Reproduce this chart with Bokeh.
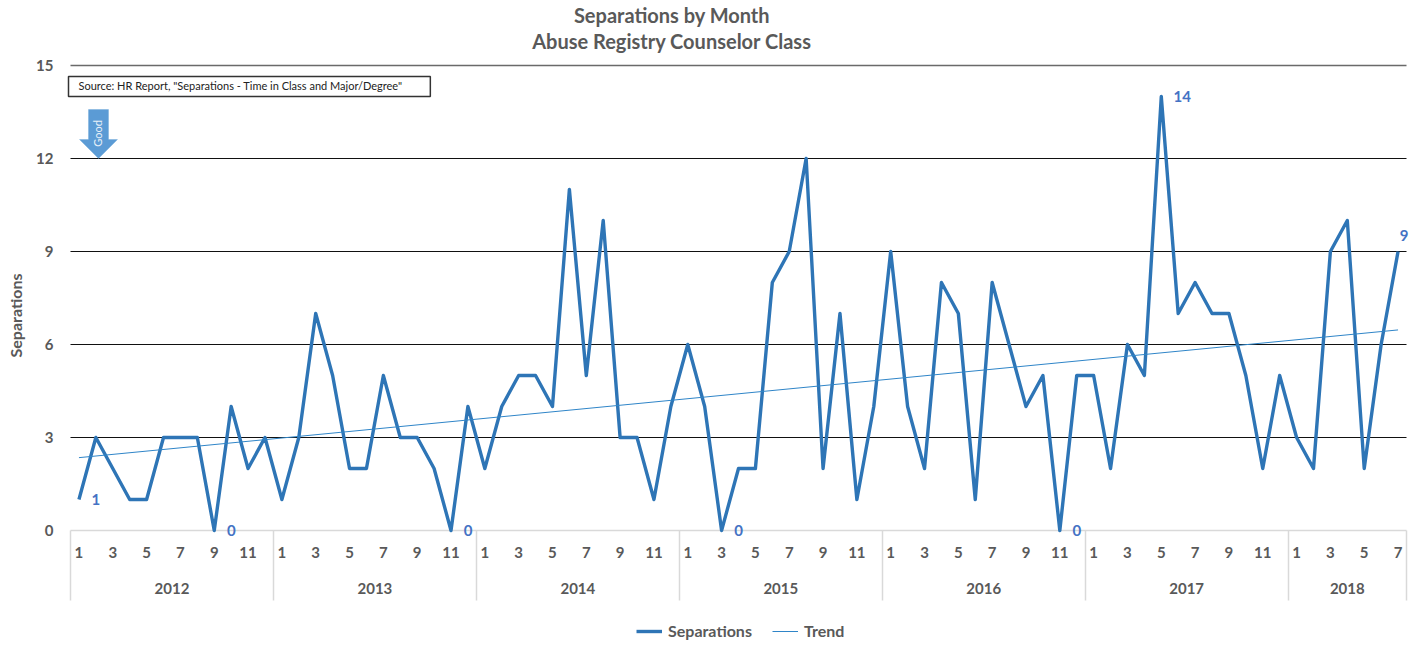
import math
from bokeh.embed import file_html
from bokeh.layouts import column
from bokeh.resources import INLINE
from bokeh.models import (Range1d, LinearAxis, FixedTicker, Label,
                          PolyAnnotation, Legend, LegendItem)
from bokeh.plotting import figure

years = ["2012", "2013", "2014", "2015", "2016", "2017", "2018"]
months_in_year = [12, 12, 12, 12, 12, 12, 7]
separations = [
    1, 3, 2, 1, 1, 3, 3, 3, 0, 4, 2, 3,
    1, 3, 7, 5, 2, 2, 5, 3, 3, 2, 0, 4,
    2, 4, 5, 5, 4, 11, 5, 10, 3, 3, 1, 4,
    6, 4, 0, 2, 2, 8, 9, 12, 2, 7, 1, 4,
    9, 4, 2, 8, 7, 1, 8, 6, 4, 5, 0, 5,
    5, 2, 6, 5, 14, 7, 8, 7, 7, 5, 2, 5,
    3, 2, 9, 10, 2, 6, 9,
]
trend_ends = [2.35, 6.47]
labelled = [0, 8, 22, 38, 58, 64, 78]
label_dx = [17, 17, 17, 17, 17, 21, 6]
label_dy = [0, 0, 0, 0, 0, 0, 16]
y_ticks = [0, 3, 6, 9, 12, 15]

GREY = "#595959"
BLUE = "#2e75b6"
TREND = "#2f85c8"
FONT = "Lato"
W, H, H2 = 1409, 612, 33
# where the plotted area sits in the picture
L, R, T, B = 70, 1406, 65, 530
FB = 537                        # frame bottom: a little below y=0 so that the "0" labels are not clipped

n = len(separations)
idx = list(range(n))
ux = (R - L) / n
uy = (B - T) / 15
sx = lambda px: px
sy = lambda py: FB - py

p = figure(width=W, height=H, output_backend="svg", toolbar_location=None,
           x_range=Range1d(-0.5 - L / ux, n - 0.5 + (W - R) / ux),
           y_range=Range1d(-(FB - B) / uy, 15 + T / uy),
           x_axis_location=None, y_axis_location=None,
           min_border_left=0, min_border_right=0, min_border_top=0, min_border_bottom=H - FB)
p.outline_line_color = None
p.background_fill_color = "white"
p.xgrid.visible = False
p.ygrid.visible = False

# y axis
yax = LinearAxis(ticker=FixedTicker(ticks=y_ticks))
yax.axis_line_color = None
yax.major_tick_line_color = None
yax.minor_tick_line_color = None
yax.major_tick_out = 0
yax.major_tick_in = 0
yax.major_label_text_font = FONT
yax.major_label_text_font_style = "bold"
yax.major_label_text_font_size = "15px"
yax.major_label_text_color = GREY
yax.major_label_standoff = -53
p.add_layout(yax, "left")

# gridlines, from the first month's left edge to the last month's right edge
grid_ticks = y_ticks[1:-1]
p.segment([-0.5] * len(grid_ticks), grid_ticks, [n - 0.5] * len(grid_ticks), grid_ticks,
          line_color="#111111", line_width=1)
p.segment([-0.5], y_ticks[-1:], [n - 0.5], y_ticks[-1:], line_color="#6a6a6a", line_width=1.5)
p.segment([-0.5], y_ticks[:1], [n - 0.5], y_ticks[:1], line_color="#d9d9d9", line_width=1.5)

# x axes: months + separators, then years
boundaries, centers, month_ticks, overrides = [-0.5], [], [], {}
start = 0
for count in months_in_year:
    centers.append(start + (count - 1) / 2)
    for m in range(1, count + 1, 2):
        month_ticks.append(start + m - 1)
        overrides[start + m - 1] = str(m)
    start += count
    boundaries.append(start - 0.5)

mx = LinearAxis(ticker=FixedTicker(ticks=month_ticks, minor_ticks=boundaries),
                major_label_overrides=overrides)
mx.axis_line_color = None
mx.major_tick_line_color = None
mx.major_tick_out = 0
mx.major_tick_in = 0
mx.minor_tick_line_color = "#d9d9d9"
mx.minor_tick_line_width = 1.5
mx.minor_tick_out = 63
mx.minor_tick_in = FB - B
mx.major_label_standoff = -54
mx.major_label_text_font = FONT
mx.major_label_text_font_style = "bold"
mx.major_label_text_font_size = "15px"
mx.major_label_text_color = GREY
p.add_layout(mx, "below")

yrx = LinearAxis(ticker=FixedTicker(ticks=centers),
                 major_label_overrides=dict(zip(centers, years)))
yrx.axis_line_color = None
yrx.major_tick_line_color = None
yrx.minor_tick_line_color = None
yrx.major_tick_out = 0
yrx.major_tick_in = 0
yrx.major_label_standoff = 22
yrx.major_label_text_font = FONT
yrx.major_label_text_font_style = "bold"
yrx.major_label_text_font_size = "15px"
yrx.major_label_text_color = GREY
p.add_layout(yrx, "below")

# series
p.line(idx, separations, line_color=BLUE, line_width=3.4, line_join="round")
p.line([0, n - 1], trend_ends, line_color=TREND, line_width=1)

for i, dx, dy in zip(labelled, label_dx, label_dy):
    p.add_layout(Label(x=i, y=separations[i], text=str(separations[i]), x_offset=dx, y_offset=dy,
                       text_align="center", text_baseline="middle",
                       text_color="#4472c4", text_font=FONT, text_font_style="bold",
                       text_font_size="15px"))

# titles and y title
for text, py in (("Separations by Month", 14), ("Abuse Registry Counselor Class", 40)):
    p.add_layout(Label(x=sx(671.5), y=sy(py), x_units="screen", y_units="screen", text=text,
                       text_align="center", text_baseline="middle", text_font=FONT,
                       text_font_style="bold", text_font_size="20px", text_color=GREY))
p.add_layout(Label(x=sx(15), y=sy(315), x_units="screen", y_units="screen", text="Separations",
                   angle=math.pi / 2, text_align="center", text_baseline="middle", text_font=FONT,
                   text_font_style="bold", text_font_size="16px", text_color=GREY))

# source note
p.add_layout(Label(x=sx(68), y=sy(86), x_units="screen", y_units="screen",
                   text='Source: HR Report, "Separations - Time in Class and Major/Degree"',
                   text_align="left", text_baseline="middle", text_font=FONT,
                   text_font_size="11px", text_color="#222222",
                   background_fill_color="white", border_line_color="#333333", border_line_width=1.5,
                   padding=(10, 28, 2, 5)))

# good arrow
arrow_x = [88, 108, 108, 117, 98, 79, 88]
arrow_y = [109, 109, 139, 139, 158, 139, 139]
p.add_layout(PolyAnnotation(xs=[sx(v) for v in arrow_x], ys=[sy(v) for v in arrow_y],
                            xs_units="screen", ys_units="screen",
                            fill_color="#5b9bd5", fill_alpha=1, line_color="#5b9bd5", line_width=1))
p.add_layout(Label(x=sx(97), y=sy(133), x_units="screen", y_units="screen", text="Good",
                   angle=math.pi / 2, text_align="center", text_baseline="middle",
                   text_font=FONT, text_font_size="11px", text_color="#e8f0f8"))

# legend strip under the chart; its lines lie outside the strip's range, only the legend shows them
p2 = figure(width=W, height=H2, output_backend="svg", toolbar_location=None,
            x_range=Range1d(0, 1), y_range=Range1d(0, 1),
            x_axis_location=None, y_axis_location=None,
            min_border_left=0, min_border_right=0, min_border_top=0, min_border_bottom=0)
p2.outline_line_color = None
p2.xgrid.visible = False
p2.ygrid.visible = False
r1 = p2.line([2, 3], [2, 3], line_color=BLUE, line_width=3.4)
r2 = p2.line([2, 3], [2, 3], line_color=TREND, line_width=1)
legend = Legend(items=[LegendItem(label="Separations", renderers=[r1]),
                       LegendItem(label="Trend", renderers=[r2])],
                orientation="horizontal", location=(636, 5),
                border_line_color=None, background_fill_alpha=0, padding=0, margin=0,
                glyph_width=26, glyph_height=12, label_standoff=6, spacing=20,
                label_text_font=FONT, label_text_font_style="bold",
                label_text_font_size="16px", label_text_color=GREY)
p2.add_layout(legend, "center")

open("out.html", "w").write(file_html(column(p, p2, spacing=0), INLINE))
